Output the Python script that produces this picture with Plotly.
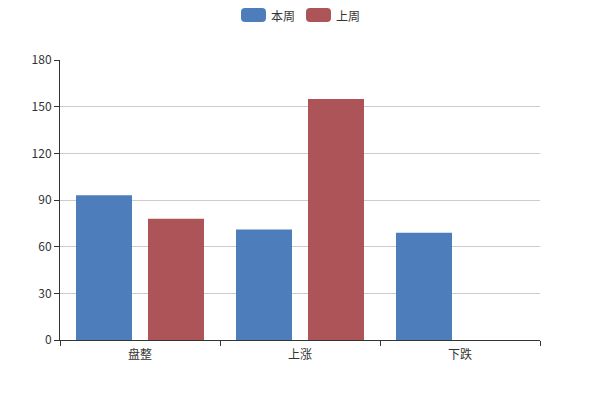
import plotly.graph_objects as go

categories = ["盘整", "上涨", "下跌"]
this_week = [93, 71, 69]
last_week = [78, 155, None]
series_names = ["本周", "上周"]
colors = ["#4d7ebb", "#ad5458"]

font_family = "Microsoft YaHei, Noto Sans CJK SC, sans-serif"

# page body has an 8px margin; plot area should sit at x 60..540, y 60..340
L, T, PW, PH = 52, 52, 480, 280

fig = go.Figure()
fig.add_trace(go.Bar(x=categories, y=this_week, name=series_names[0],
                     marker=dict(color=colors[0], line=dict(width=0))))
fig.add_trace(go.Bar(x=categories, y=last_week, name=series_names[1],
                     marker=dict(color=colors[1], line=dict(width=0))))

def px_to_paper(px, py):
    return (px - 60) / PW, (340 - py) / PH

# custom legend (rounded icons like the reference)
legend_items = [(241, 270), (306, 335)]
for (ix, tx), name, col in zip(legend_items, series_names, colors):
    x0, y0 = px_to_paper(ix, 22)
    x1, y1 = px_to_paper(ix + 25, 8)
    r = 4
    rx, ry = r / PW, r / PH
    path = (f"M {x0+rx},{y0} L {x1-rx},{y0} Q {x1},{y0} {x1},{y0+ry} "
            f"L {x1},{y1-ry} Q {x1},{y1} {x1-rx},{y1} L {x0+rx},{y1} "
            f"Q {x0},{y1} {x0},{y1-ry} L {x0},{y0+ry} Q {x0},{y0} {x0+rx},{y0} Z")
    fig.add_shape(type="path", xref="paper", yref="paper", path=path,
                  fillcolor=col, line=dict(width=0), layer="above")
    tx_p, ty_p = px_to_paper(tx, 15.5)
    fig.add_annotation(x=tx_p, y=ty_p, xref="paper", yref="paper",
                       text=name, showarrow=False, xanchor="left", yanchor="middle",
                       borderpad=0, height=15,
                       font=dict(size=12, color="#333", family=font_family))

fig.update_layout(
    width=600, height=400,
    margin=dict(l=L, r=600 - L - PW, t=T, b=400 - T - PH, autoexpand=False),
    paper_bgcolor="white", plot_bgcolor="white",
    barmode="group", bargap=0.1, bargroupgap=0.222,
    showlegend=False,
    font=dict(family=font_family, size=12, color="#333"),
)
fig.update_xaxes(
    showline=True, linecolor="#333", linewidth=1,
    ticks="outside", tickson="boundaries", ticklen=5, tickcolor="#333",
    showgrid=False, tickfont=dict(size=12, color="#333"),
    ticklabelstandoff=4,
)
fig.update_yaxes(
    range=[0, 180], dtick=30, tick0=0,
    showline=True, linecolor="#333", linewidth=1,
    ticks="outside", ticklen=5, tickcolor="#333",
    showgrid=True, gridcolor="#ccc", gridwidth=1, zeroline=False,
    tickfont=dict(size=12, color="#333"),
)

fig.write_html("out.html")
